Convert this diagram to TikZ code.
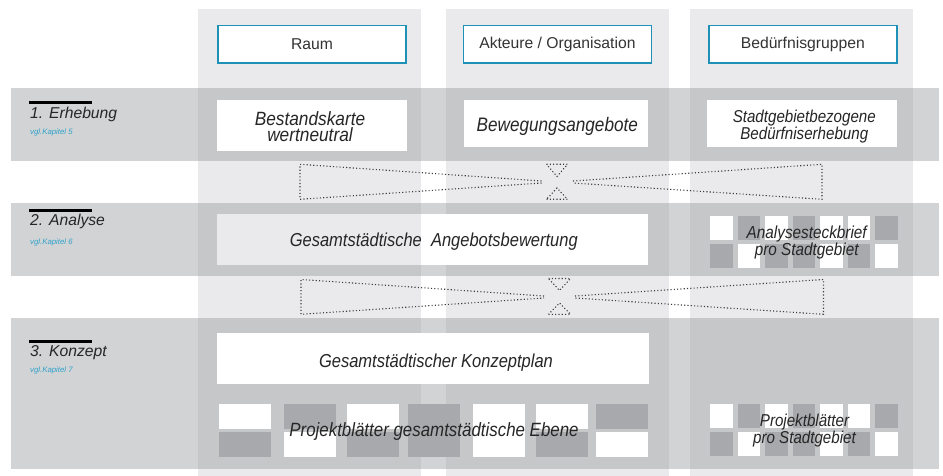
\documentclass[tikz,border=0pt]{standalone}
\usepackage{fontspec}
\setmainfont{Liberation Sans}
\newfontfamily\condit{Liberation Sans}[FakeStretch=0.88]
\newfontfamily\conditw{Liberation Sans}[FakeStretch=0.90]
\definecolor{colband}{HTML}{EAEAEC}
\definecolor{rowband}{HTML}{D2D3D5}
\definecolor{rowcol}{HTML}{C6C7C9}
\definecolor{cellD}{HTML}{A8A9AC}
\definecolor{hdrblue}{HTML}{1E92B6}
\definecolor{hdrtxt}{HTML}{333333}
\definecolor{bodytxt}{HTML}{262626}
\definecolor{kapblue}{HTML}{2FA3CA}
\definecolor{dotcol}{HTML}{3C3C3C}
\tikzset{
  hdrbox/.style={draw=hdrblue, line width=1.4pt, fill=white, minimum width=188pt, minimum height=37.5pt, inner sep=0pt, text=hdrtxt, font=\fontsize{15.7}{18}\selectfont},
  btxt/.style={inner sep=0pt, text=bodytxt, align=center},
  phase/.style={inner sep=0pt, text=bodytxt, font=\itshape\fontsize{15.7}{18}\selectfont},
  kap/.style={inner sep=0pt, text=kapblue, font=\itshape\fontsize{7.8}{9}\selectfont},
  dotline/.style={draw=dotcol, line width=1.1pt, dash pattern=on 1.1pt off 2.2pt},
}
\begin{document}
\begin{tikzpicture}[x=1pt,y=-1pt]
\useasboundingbox (0,0) rectangle (943,476);
\fill[white] (0,0) rectangle (943,476);
% column bands
\foreach \a/\b in {198/421,446/668.5,690/912.5}
  \fill[colband] (\a,9) rectangle (\b,476);
% row bands
\foreach \t/\u in {88/161,203/276,318/469}{
  \fill[rowband] (11,\t) rectangle (939,\u);
  \foreach \a/\b in {198/421,446/668.5,690/912.5}
    \fill[rowcol] (\a,\t) rectangle (\b,\u);
}
% headers
\node[hdrbox] (raum) at (312,44.3) {Raum};
\node[hdrbox] (akteure) at (557.4,44.3) {Akteure / Organisation};
\node[hdrbox] (bed) at (802.8,44.3) {Bedürfnisgruppen};
% phase labels
\fill[black] (29,101) rectangle (92,104);
\node[phase, anchor=base west] (ph1) at (30,119) {1. Erhebung};
\node[kap, anchor=base west] (k1) at (30,135) {vgl.Kapitel 5};
\fill[black] (29,209) rectangle (92,212);
\node[phase, anchor=base west] (ph2) at (30,225.7) {2. Analyse};
\node[kap, anchor=base west] (k2) at (30,244) {vgl.Kapitel 6};
\fill[black] (29,340) rectangle (92,343);
\node[phase, anchor=base west] (ph3) at (30,356.7) {3. Konzept};
\node[kap, anchor=base west] (k3) at (30,372.7) {vgl.Kapitel 7};
% row 1 boxes
\fill[white] (217,100) rectangle (407,150.7);
\node[btxt, anchor=north, font=\conditw\itshape\fontsize{19.2}{16.2}\selectfont] (bestand) at (310,111.6) {Bestandskarte\\wertneutral};
\fill[white] (464,100) rectangle (648,147.3);
\node[btxt, anchor=base, font=\condit\itshape\fontsize{19.5}{16}\selectfont] (beweg) at (557.3,131.7) {Bewegungsangebote};
\fill[white] (707,100) rectangle (897.3,146.7);
\node[btxt, anchor=north, font=\condit\itshape\fontsize{17.2}{15.6}\selectfont] (stadt) at (804.3,110.1) {Stadtgebietbezogene\\Bedürfniserhebung};
% row 2 boxes
\fill[white] (217,214) rectangle (648,264.5);
\fill[colband] (217,214) rectangle (421,264.5);
\node[btxt, anchor=base, font=\condit\itshape\fontsize{18.75}{16}\selectfont] (bewert) at (433.8,246.7) {Gesamtstädtische\ \ Angebotsbewertung};
% checkerboards right
\foreach \x/\tc/\bc in {710/white/cellD,737.5/cellD/white,765/white/cellD,792.5/cellD/cellD,820/white/white,847.5/white/cellD,875/cellD/white}{
  \fill[\tc] (\x,216) rectangle ++(22.5,24);
  \fill[\bc] (\x,243.5) rectangle ++(22.5,24);
  \fill[\tc] (\x,404) rectangle ++(22.5,24);
  \fill[\bc] (\x,431.5) rectangle ++(22.5,24);
}
\node[btxt, anchor=north, font=\condit\itshape\fontsize{17.4}{15}\selectfont] (steck) at (806.7,225.6) {Analysesteckbrief\\pro Stadtgebiet};
% row 3
\fill[white] (217,333.3) rectangle (649,384.3);
\node[btxt, anchor=base, font=\condit\itshape\fontsize{18.75}{16}\selectfont] (konzept) at (436,367.7) {Gesamtstädtischer Konzeptplan};
\foreach \x/\tc/\bc in {219/white/cellD,284/cellD/white,347/white/cellD,408/cellD/cellD,473/white/white,536/white/cellD,596/cellD/white}{
  \fill[\tc] (\x,404) rectangle ++(52,24.5);
  \fill[\bc] (\x,431.7) rectangle ++(52,24.8);
}
\fill[cellD] (408,404) rectangle ++(52,52.5);
\fill[white] (473,404) rectangle ++(52,52.5);
\node[btxt, anchor=base, font=\condit\itshape\fontsize{19.2}{16}\selectfont] (projges) at (434,436.7) {Projektblätter gesamtstädtische Ebene};
\node[btxt, anchor=north, font=\condit\itshape\fontsize{17.2}{16.7}\selectfont] (projst) at (804.5,413.7) {Projektblätter\\pro Stadtgebiet};
% dotted hourglass 1
\draw[dotline] (541.5,181) -- (300,164.3) -- (300,199.3) -- (541.5,183);
\draw[dotline] (573,181) -- (822,164.3) -- (822,199.3) -- (573,183);
\draw[dotline] (546.5,164.3) -- (567.5,164.3) -- (557,176.5) -- cycle;
\draw[dotline] (546.5,199.3) -- (567.5,199.3) -- (557,188) -- cycle;
% dotted hourglass 2
\draw[dotline] (544,296) -- (301,279.5) -- (301,314.3) -- (544,298);
\draw[dotline] (575,296) -- (823.5,279.5) -- (823.5,314.3) -- (575,298);
\draw[dotline] (548.5,278.5) -- (570.5,278.5) -- (559.5,290.5) -- cycle;
\draw[dotline] (548.5,314.3) -- (570.5,314.3) -- (559.5,303) -- cycle;
\end{tikzpicture}
\end{document}
